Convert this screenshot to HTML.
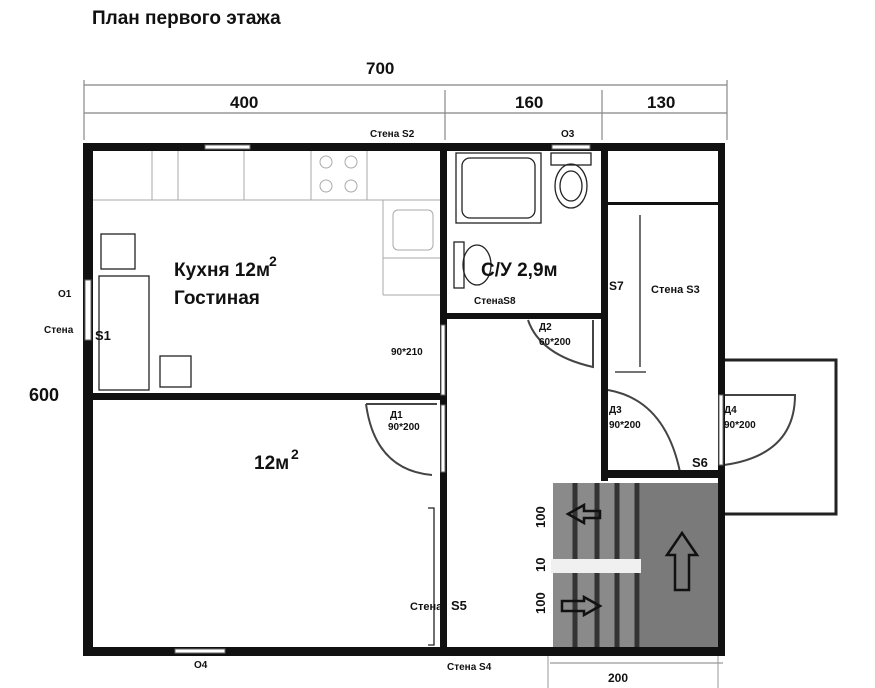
<!DOCTYPE html>
<html><head><meta charset="utf-8"><style>
html,body{margin:0;padding:0;background:#fff;width:875px;height:688px;overflow:hidden}
svg{display:block}
text{font-family:"Liberation Sans",sans-serif;font-weight:bold;fill:#111}
</style></head><body>
<svg width="875" height="688" viewBox="0 0 875 688">
<text x="92" y="24" font-size="19">План первого этажа</text>
<text x="366" y="74" font-size="17">700</text>
<line x1="84" y1="85" x2="727" y2="85" stroke="#999" stroke-width="1.5"/>
<line x1="84" y1="113" x2="727" y2="113" stroke="#999" stroke-width="1.5"/>
<g stroke="#888" stroke-width="1.2"><line x1="84" y1="80" x2="84" y2="140"/><line x1="445" y1="90" x2="445" y2="140"/><line x1="602" y1="90" x2="602" y2="140"/><line x1="727" y1="80" x2="727" y2="140"/></g>
<text x="230" y="108" font-size="17">400</text>
<text x="515" y="108" font-size="17">160</text>
<text x="647" y="108" font-size="17">130</text>
<text x="370" y="137" font-size="10">Стена S2</text>
<text x="561" y="137" font-size="10">О3</text>
<g stroke="#aaa" stroke-width="1" fill="none">
<line x1="93" y1="200" x2="383" y2="200"/><line x1="383" y1="200" x2="383" y2="295"/><line x1="383" y1="295" x2="440" y2="295"/><line x1="383" y1="258" x2="440" y2="258"/><line x1="383" y1="200" x2="440" y2="200"/>
<line x1="152" y1="150" x2="152" y2="200"/><line x1="178" y1="150" x2="178" y2="200"/><line x1="244" y1="150" x2="244" y2="200"/><line x1="311" y1="150" x2="311" y2="200"/><line x1="367" y1="150" x2="367" y2="200"/>
<circle cx="326" cy="162" r="6"/><circle cx="351" cy="162" r="6"/><circle cx="326" cy="186" r="6"/><circle cx="351" cy="186" r="6"/>
<rect x="393" y="210" width="40" height="40" rx="5"/>
</g>
<g stroke="#222" stroke-width="1.3" fill="none">
<rect x="101" y="234" width="34" height="35"/><rect x="99" y="276" width="50" height="114"/><rect x="160" y="356" width="31" height="31"/>
<rect x="456" y="153" width="85" height="70"/><rect x="462" y="158" width="73" height="60" rx="8"/>
<rect x="551" y="153" width="40" height="12"/><ellipse cx="571" cy="186" rx="16" ry="22"/><ellipse cx="571" cy="186" rx="11" ry="15"/>
<rect x="454" y="242" width="10" height="46"/><ellipse cx="477" cy="265" rx="14" ry="20"/>
<line x1="640" y1="215" x2="640" y2="367"/><line x1="615" y1="372" x2="646" y2="372"/>
<path d="M428 508 L434 508 L434 645 L428 645"/>
<rect x="722" y="360" width="114" height="154" stroke-width="3"/>
</g>
<g stroke="#444" stroke-width="2" fill="none">
<path d="M528 320 Q540 355 593 367 L593 320"/>
<path d="M608 390 Q665 400 680 472"/>
<path d="M724 395 L795 395 Q795 455 724 465"/>
<path d="M366 404 L437 404 M366 404 Q375 470 432 475"/>
</g>
<rect x="553" y="483" width="170" height="170" fill="#8a8a8a"/>
<rect x="640" y="483" width="80" height="170" fill="#7a7a7a"/>
<g stroke="#333" stroke-width="5"><line x1="575" y1="483" x2="575" y2="653"/><line x1="597" y1="483" x2="597" y2="653"/><line x1="617" y1="483" x2="617" y2="653"/><line x1="637" y1="483" x2="637" y2="653"/></g>
<rect x="551" y="559" width="90" height="14" fill="#f0f0f0"/>
<g stroke="#111" stroke-width="2.5" fill="none">
<path d="M682 533 L667 555 L675 555 L675 590 L689 590 L689 555 L697 555 Z"/>
<path d="M568 514 L584 505 L584 511 L600 511 L600 518 L584 518 L584 523 Z"/>
<path d="M600 606 L584 597 L584 601 L562 601 L562 611 L584 611 L584 615 Z"/>
</g>
<g font-size="13"><text transform="translate(545,528) rotate(-90)">100</text><text transform="translate(545,572) rotate(-90)">10</text><text transform="translate(545,614) rotate(-90)">100</text></g>
<g fill="#111">
<rect x="83" y="143" width="10" height="513"/>
<rect x="83" y="143" width="642" height="8"/>
<rect x="83" y="647" width="642" height="9"/>
<rect x="440" y="143" width="7" height="513"/>
<rect x="83" y="393" width="362" height="7"/>
<rect x="443" y="313" width="163" height="6"/>
<rect x="601" y="143" width="7" height="338"/>
<rect x="601" y="470" width="124" height="8"/>
<rect x="718" y="143" width="7" height="513"/>
<rect x="608" y="202" width="112" height="3"/>
</g>
<g fill="#fff" stroke="#666" stroke-width="1">
<rect x="205" y="145" width="45" height="4"/><rect x="552" y="145" width="38" height="4"/><rect x="175" y="649" width="50" height="4"/><rect x="85" y="280" width="6" height="60"/>
<rect x="441" y="325" width="4" height="70"/><rect x="441" y="405" width="4" height="67"/><rect x="719" y="395" width="4" height="70"/>
</g>
<g font-size="10">
<text x="474" y="304">СтенаS8</text><text x="609" y="290" font-size="12">S7</text><text x="651" y="293" font-size="11">Стена S3</text>
<text x="539" y="330">Д2</text><text x="539" y="345">60*200</text>
<text x="609" y="413">Д3</text><text x="609" y="428">90*200</text>
<text x="724" y="413">Д4</text><text x="724" y="428">90*200</text>
<text x="692" y="467" font-size="13">S6</text>
<text x="391" y="355">90*210</text>
<text x="390" y="418">Д1</text><text x="388" y="430">90*200</text>
<text x="410" y="610" font-size="11">Стена</text><text x="451" y="610" font-size="13">S5</text>
<text x="447" y="670">Стена S4</text><text x="194" y="668">О4</text>
<text x="58" y="297">О1</text><text x="44" y="333">Стена</text><text x="95" y="340" font-size="13">S1</text>
</g>
<text x="174" y="276" font-size="19">Кухня 12м</text><text x="269" y="266" font-size="14">2</text>
<text x="174" y="304" font-size="19">Гостиная</text>
<text x="481" y="276" font-size="19">С/У 2,9м</text>
<text x="254" y="469" font-size="19">12м</text><text x="291" y="459" font-size="14">2</text>
<text x="29" y="401" font-size="18">600</text>
<line x1="550" y1="663" x2="723" y2="663" stroke="#999" stroke-width="1.2"/>
<line x1="548" y1="656" x2="548" y2="688" stroke="#999"/><line x1="718" y1="656" x2="718" y2="688" stroke="#999"/>
<text x="608" y="682" font-size="12">200</text>
</svg>
</body></html>
